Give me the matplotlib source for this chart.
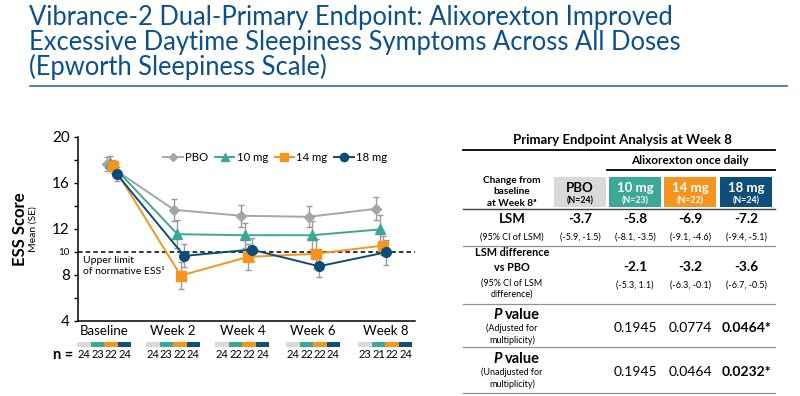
import matplotlib
matplotlib.use("Agg")
import matplotlib.pyplot as plt
from matplotlib.patches import Rectangle
from matplotlib.transforms import blended_transform_factory

plt.rcParams['font.family'] = ['Lato', 'DejaVu Sans']

# ---- data ----
weeks = ['Baseline', 'Week 2', 'Week 4', 'Week 6', 'Week 8']
groups = ['PBO', '10 mg', '14 mg', '18 mg']
pbo_mean = [17.65, 13.67, 13.15, 13.06, 13.76]
pbo_se = [0.6, 0.96, 0.95, 0.9, 1.0]
mg10_mean = [17.74, 11.55, 11.46, 11.46, 11.96]
mg10_se = [0.6, 1.2, 1.1, 1.2, 1.25]
mg14_mean = [17.44, 7.95, 9.58, 9.84, 10.56]
mg14_se = [0.6, 1.2, 1.15, 1.25, 0.8]
mg18_mean = [16.78, 9.66, 10.21, 8.76, 9.98]
mg18_se = [0.6, 1.0, 1.0, 0.95, 1.1]
n_counts = [[24, 23, 22, 24], [24, 23, 22, 24], [24, 22, 22, 24],
            [24, 22, 22, 24], [23, 21, 22, 24]]
normative_limit = 10

# table data
table_n = ['(N=24)', '(N=23)', '(N=22)', '(N=24)']
lsm = ['-3.7', '-5.8', '-6.9', '-7.2']
lsm_ci = ['(-5.9, -1.5)', '(-8.1, -3.5)', '(-9.1, -4.6)', '(-9.4, -5.1)']
lsm_diff = ['-2.1', '-3.2', '-3.6']
lsm_diff_ci = ['(-5.3, 1.1)', '(-6.3, -0.1)', '(-6.7, -0.5)']
p_adj = ['0.1945', '0.0774', '0.0464*']
p_unadj = ['0.1945', '0.0464', '0.0232*']

# ---- style ----
colors = ['#A6A6A6', '#3AA898', '#F7941D', '#0E4C78']
cell_colors = ['#D9D9D9', '#3BA898', '#F7941E', '#0F4E79']
markers = ['D', '^', 's', 'o']
msizes = [5, 6.5, 6.5, 7]
offsets = [-0.075, -0.025, 0.025, 0.075]
label_x = [-0.11, 0.91, 1.94, 2.99, 4.06]   # tick label / key positions (slightly off the points)
title_blue = '#0B4F8C'

fig = plt.figure(figsize=(8, 3.96), dpi=100)

# ---- main chart ----
ax = fig.add_axes([78 / 800, 1 - 321 / 396, 337 / 800, 184 / 396])
means = [pbo_mean, mg10_mean, mg14_mean, mg18_mean]
ses = [pbo_se, mg10_se, mg14_se, mg18_se]
for i, g in enumerate(groups):
    xs = [k + offsets[i] for k in range(len(weeks))]
    ax.errorbar(xs, means[i], yerr=ses[i], fmt='none', ecolor='#9A9A9A',
                elinewidth=1.0, capsize=2.5, capthick=1.0, zorder=2)
    ax.plot(xs, means[i], color=colors[i], marker=markers[i], markersize=msizes[i],
            linewidth=1.4, label=g, zorder=3)

ax.axhline(normative_limit, color='black', linestyle=(0, (3, 2)), linewidth=1.1, zorder=1)
ax.text(-0.43, 9.65, 'Upper limit\nof normative ESS\u00b9', fontsize=7.5,
        va='top', ha='left', linespacing=1.35)

ax.set_xlim(-0.5, 4.5)
ax.set_ylim(4, 20)
ax.set_yticks(range(4, 21, 2))
ax.set_yticklabels(['4', '', '8', '10', '12', '', '16', '', '20'])
for lab in ax.get_yticklabels():
    lab.set_fontsize(7 if lab.get_text() == '10' else 11)
ax.set_xticks(label_x)
ax.set_xticklabels(weeks, fontsize=9.5)
ax.tick_params(axis='y', length=3, width=1, pad=3)
ax.tick_params(axis='x', length=0, pad=3)
for s in ['top', 'right']:
    ax.spines[s].set_visible(False)
for s in ['left', 'bottom']:
    ax.spines[s].set_linewidth(1.1)

ax.legend(loc='center', bbox_to_anchor=(0.585, 0.886), ncol=4, frameon=False,
          fontsize=8.2, handlelength=1.7, handletextpad=0.2, columnspacing=0.6,
          markerscale=0.85)

ax.text(-0.172, 0.5, 'ESS Score', transform=ax.transAxes, rotation=90,
        fontsize=12, fontweight='bold', ha='center', va='center')
ax.text(-0.134, 0.5, 'Mean (SE)', transform=ax.transAxes, rotation=90,
        fontsize=7.5, ha='center', va='center')

# colour keys and n values under each time point
tr = blended_transform_factory(ax.transData, fig.transFigure)
for k in range(len(weeks)):
    for i in range(len(groups)):
        x0 = label_x[k] - 0.4 + i * 0.2
        fig.patches.append(Rectangle((x0, 1 - 346.5 / 396), 0.2, 5 / 396,
                                     transform=tr, color=cell_colors[i], lw=0))
        fig.text(x0 + 0.1, 1 - 355 / 396, str(n_counts[k][i]), transform=tr,
                 ha='center', va='center', fontsize=8)
fig.text(63 / 800, 1 - 355 / 396, 'n =', ha='center', va='center',
         fontsize=10.5, fontweight='bold')

# ---- overlay (title + table) in pixel coords ----
ov = fig.add_axes([0, 0, 1, 1])
ov.set_xlim(0, 800)
ov.set_ylim(396, 0)
ov.axis('off')
ov.patch.set_alpha(0)

title_lines = ['Vibrance-2 Dual-Primary Endpoint: Alixorexton Improved',
               'Excessive Daytime Sleepiness Symptoms Across All Doses',
               '(Epworth Sleepiness Scale)']
for j, t in enumerate(title_lines):
    ov.text(29, 18 + 24.5 * j, t, fontsize=18.4, color=title_blue,
            ha='left', va='center')
ov.plot([30, 787], [86, 86], color='#2E6DA4', lw=1.2)

# table
col_x = [580, 635, 690, 746]
lab_x = 512
ov.text(622, 140, 'Primary Endpoint Analysis at Week 8', fontsize=9.5,
        fontweight='bold', ha='center', va='center')
ov.plot([463, 775], [150, 150], color='black', lw=1.3)
ov.text(690, 161, 'Alixorexton once daily', fontsize=8.5, fontweight='bold',
        ha='center', va='center')
ov.plot([607, 775], [170, 170], color='black', lw=1.3)
ov.text(lab_x, 192, 'Change from\nbaseline\nat Week 8\u00aa', fontsize=7.2,
        fontweight='bold', ha='center', va='center', linespacing=1.4)
for i, g in enumerate(groups):
    ov.add_patch(Rectangle((col_x[i] - 26, 177), 52, 30, color=cell_colors[i], lw=0))
    tc = 'black' if i == 0 else 'white'
    ov.text(col_x[i], 188, g, fontsize=9.5, fontweight='bold', color=tc,
            ha='center', va='center')
    ov.text(col_x[i], 201, table_n[i], fontsize=6.3, fontweight='bold', color=tc,
            ha='center', va='center')
ov.plot([463, 775], [208.5, 208.5], color='#404040', lw=1.0)

ov.text(lab_x, 219, 'LSM', fontsize=9.5, fontweight='bold', ha='center', va='center')
ov.text(lab_x, 237, '(95% CI of LSM)', fontsize=6.5, ha='center', va='center')
for i in range(4):
    ov.text(col_x[i], 219, lsm[i], fontsize=9.8, fontweight='bold', ha='center', va='center')
    ov.text(col_x[i], 237, lsm_ci[i], fontsize=6.5, ha='center', va='center')
ov.plot([463, 775], [246, 246], color='#909090', lw=0.9)

ov.text(lab_x, 260, 'LSM difference\nvs PBO', fontsize=7.8, fontweight='bold',
        ha='center', va='center', linespacing=1.35)
ov.text(lab_x, 289, '(95% CI of LSM\ndifference)', fontsize=6.5,
        ha='center', va='center', linespacing=1.3)
for i in range(3):
    ov.text(col_x[i + 1], 267, lsm_diff[i], fontsize=9.8, fontweight='bold',
            ha='center', va='center')
    ov.text(col_x[i + 1], 285, lsm_diff_ci[i], fontsize=6.5, ha='center', va='center')
ov.plot([463, 775], [304, 304], color='#909090', lw=0.9)

for y0, sub, vals in [(315, '(Adjusted for\nmultiplicity)', p_adj),
                      (359, '(Unadjusted for\nmultiplicity)', p_unadj)]:
    ov.text(lab_x - 10, y0, 'P', fontsize=10.5, fontweight='bold', style='italic',
            ha='right', va='center')
    ov.text(lab_x - 7, y0, 'value', fontsize=10.5, fontweight='bold',
            ha='left', va='center')
    ov.text(lab_x, y0 + 19, sub, fontsize=6.5, ha='center', va='center',
            linespacing=1.3)
    for i in range(3):
        ov.text(col_x[i + 1], y0 + 13, vals[i], fontsize=10,
                fontweight='bold' if i == 2 else 'normal', ha='center', va='center')
ov.plot([463, 775], [347, 347], color='#909090', lw=0.9)
ov.plot([463, 775], [393, 393], color='#909090', lw=0.9)

fig.savefig('out.png', dpi=100)
